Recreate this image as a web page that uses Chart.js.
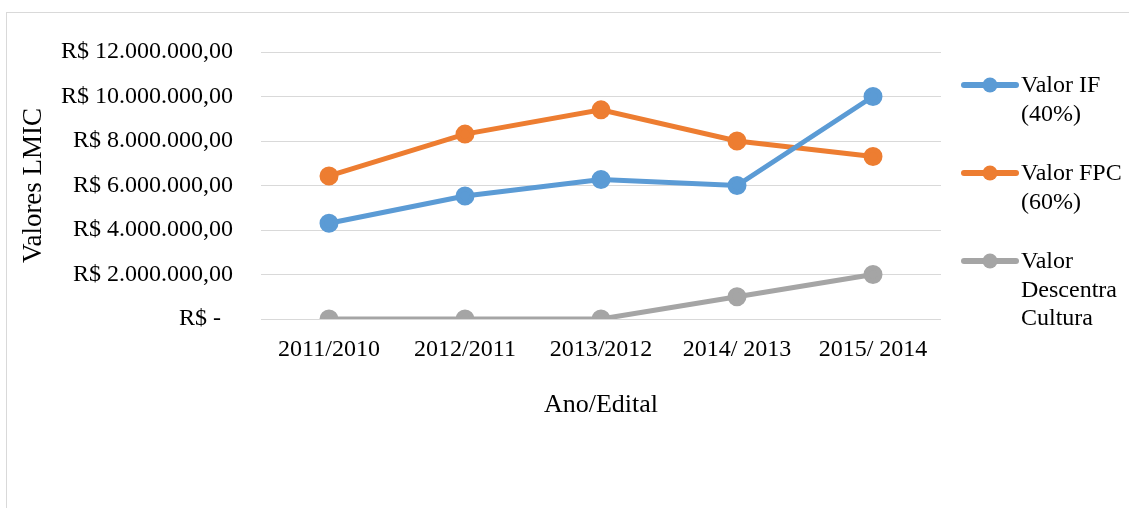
<!DOCTYPE html>
<html>
<head>
<meta charset="utf-8">
<script src="https://cdn.jsdelivr.net/npm/chart.js@4/dist/chart.umd.min.js"></script>
<style>
  html, body { margin: 0; padding: 0; background: #fff; }
  #wrap { width: 1129px; height: 508px; position: relative; }
</style>
</head>
<body>
<div id="wrap"><canvas id="lmicChart"></canvas></div>
<script>
// Dados do gráfico
const categorias = ['2011/2010', '2012/2011', '2013/2012', '2014/ 2013', '2015/ 2014'];
const valorIF = [4300000, 5530000, 6270000, 6000000, 10000000];
const valorFPC = [6430000, 8310000, 9400000, 8000000, 7300000];
const valorDescentra = [0, 0, 0, 1000000, 2000000];
const legendaIF = ['Valor IF', '(40%)'];
const legendaFPC = ['Valor FPC', '(60%)'];
const legendaDescentra = ['Valor', 'Descentra', 'Cultura'];
const yMin = 0, yMax = 12000000, yStep = 2000000;

const AZUL = '#5b9bd5', LARANJA = '#ed7d31', CINZA = '#a5a5a5';
const FONTE = "'Liberation Serif', 'Times New Roman', serif";

// Formato contábil R$
function formatReal(v) {
    if (v === 0) return 'R$ -  ';
    const s = v.toFixed(2).split('.');
    return 'R$ ' + s[0].replace(/\B(?=(\d{3})+(?!\d))/g, '.') + ',' + s[1];
}

function serie(label, linhas, data, cor) {
    return {
        label: label,
        legendLines: linhas,
        data: data,
        borderColor: cor,
        backgroundColor: cor,
        pointBackgroundColor: cor,
        pointBorderColor: cor,
        borderWidth: 5,
        pointRadius: 7,
        pointHoverRadius: 7,
        tension: 0,
        fill: false
    };
}

// Borda do gráfico
const bordaPlugin = {
    id: 'borda',
    beforeDraw(chart) {
        const ctx = chart.ctx;
        ctx.save();
        ctx.strokeStyle = '#d9d9d9';
        ctx.lineWidth = 1;
        ctx.strokeRect(6.5, 12.5, 1400, 800);
        ctx.restore();
    }
};

// Legenda à direita com várias linhas
const legendaPlugin = {
    id: 'legendaLMIC',
    afterDraw(chart) {
        const ctx = chart.ctx;
        const x0 = chart.chartArea.right + 20;
        const lineH = 28.5;
        let y = 85;
        ctx.save();
        ctx.font = '24px ' + FONTE;
        ctx.textBaseline = 'middle';
        ctx.textAlign = 'left';
        chart.data.datasets.forEach(ds => {
            ctx.strokeStyle = ds.borderColor;
            ctx.lineWidth = 6;
            ctx.lineCap = 'round';
            ctx.beginPath();
            ctx.moveTo(x0 + 3, y);
            ctx.lineTo(x0 + 55, y);
            ctx.stroke();
            ctx.fillStyle = ds.borderColor;
            ctx.beginPath();
            ctx.arc(x0 + 29, y, 7.5, 0, Math.PI * 2);
            ctx.fill();
            ctx.fillStyle = '#000';
            ds.legendLines.forEach((t, i) => {
                ctx.fillText(t, x0 + 60, y + 1 + i * lineH);
            });
            y += ds.legendLines.length * lineH + 31;
        });
        ctx.restore();
    }
};

new Chart(document.getElementById('lmicChart'), {
    type: 'line',
    data: {
        labels: categorias,
        datasets: [
            serie('Valor IF (40%)', legendaIF, valorIF, AZUL),
            serie('Valor FPC (60%)', legendaFPC, valorFPC, LARANJA),
            serie('Valor Descentra Cultura', legendaDescentra, valorDescentra, CINZA)
        ]
    },
    options: {
        responsive: true,
        maintainAspectRatio: false,
        animation: false,
        layout: { padding: { left: 0, right: 188, top: 52, bottom: 0 } },
        plugins: {
            legend: { display: false },
            tooltip: { enabled: false }
        },
        scales: {
            x: {
                offset: true,
                grid: { display: false, drawTicks: false },
                border: { display: false },
                ticks: {
                    color: '#000',
                    padding: 16,
                    maxRotation: 0,
                    autoSkip: false,
                    font: { family: FONTE, size: 24 }
                },
                title: {
                    display: true,
                    text: 'Ano/Edital',
                    color: '#000',
                    font: { family: FONTE, size: 26 },
                    padding: { top: 0, bottom: 87 }
                },
                afterFit(scale) { scale.height = 189; }
            },
            y: {
                min: yMin,
                max: yMax,
                grid: { color: '#d9d9d9', lineWidth: 1, drawTicks: false },
                border: { display: false },
                ticks: {
                    stepSize: yStep,
                    color: '#000',
                    padding: 28,
                    font: { family: FONTE, size: 24 },
                    callback: v => formatReal(v)
                },
                title: {
                    display: true,
                    text: 'Valores LMIC',
                    color: '#000',
                    font: { family: FONTE, size: 27 },
                    padding: { top: 18, bottom: 0 }
                },
                afterFit(scale) { scale.width = 261; }
            }
        }
    },
    plugins: [bordaPlugin, legendaPlugin]
});
</script>
</body>
</html>
